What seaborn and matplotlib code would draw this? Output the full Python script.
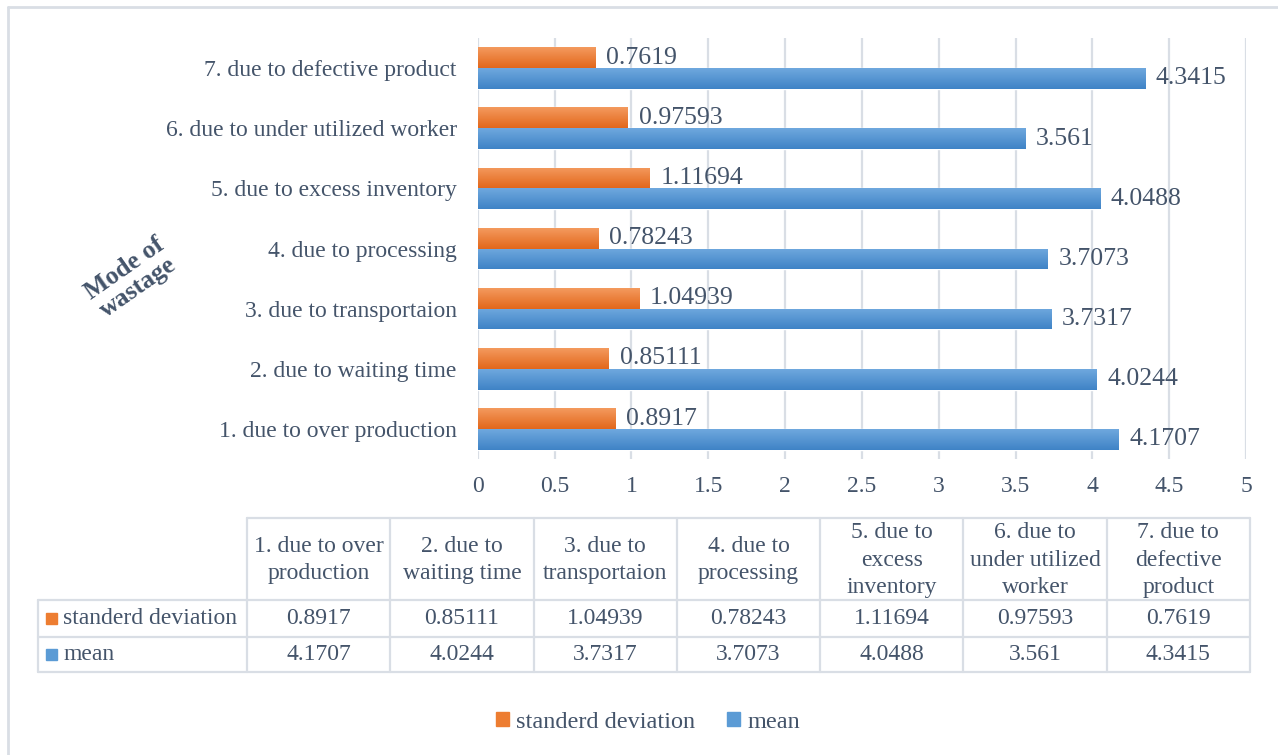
import numpy as np
import pandas as pd
import matplotlib
matplotlib.use("Agg")
import matplotlib.pyplot as plt
import seaborn as sns
from matplotlib.patches import Patch

# data
modes = ["1. due to over production", "2. due to waiting time", "3. due to transportaion",
         "4. due to processing", "5. due to excess inventory", "6. due to under utilized worker",
         "7. due to defective product"]
table_heads = ["1. due to over\nproduction", "2. due to\nwaiting time", "3. due to\ntransportaion",
               "4. due to\nprocessing", "5. due to\nexcess\ninventory", "6. due to\nunder utilized\nworker",
               "7. due to\ndefective\nproduct"]
std_dev = [0.8917, 0.85111, 1.04939, 0.78243, 1.11694, 0.97593, 0.7619]
mean = [4.1707, 4.0244, 3.7317, 3.7073, 4.0488, 3.561, 4.3415]
series = ["standerd deviation", "mean"]
x_ticks = [0, 0.5, 1, 1.5, 2, 2.5, 3, 3.5, 4, 4.5, 5]

df = pd.DataFrame({
    "mode": modes * 2,
    "series": [series[0]] * len(modes) + [series[1]] * len(modes),
    "value": std_dev + mean,
})

TXT = "#44546A"
GRID = "#D9DEE5"
colors = {"standerd deviation": "#ED7D31", "mean": "#5B9BD5"}
grad_cols = {"standerd deviation": ("#F49A5E", "#E2671B"), "mean": ("#6FA8DE", "#3F83C6")}

sns.set_style("white")
plt.rcParams["font.family"] = ["Liberation Serif", "DejaVu Serif"]

fig = plt.figure(figsize=(12.78, 7.55), dpi=100)
W, H = 1278, 755
ax = fig.add_axes([477.7 / W, 1 - 459 / H, (1246 - 477.7) / W, (459 - 38) / H])

sns.barplot(data=df, y="mode", x="value", hue="series", order=modes[::-1],
            hue_order=series, palette=colors, width=0.69, orient="h",
            legend=False, ax=ax, saturation=1)

# gradient fill like the original
for cont, name in zip(ax.containers, series):
    c0 = np.array(matplotlib.colors.to_rgb(grad_cols[name][0]))
    c1 = np.array(matplotlib.colors.to_rgb(grad_cols[name][1]))
    t = np.linspace(0, 1, 50)[:, None, None]
    img = c0 * (1 - t) + c1 * t
    for bar in cont:
        x, y, w, h = bar.get_x(), bar.get_y(), bar.get_width(), bar.get_height()
        im = ax.imshow(img, extent=(x, x + w, y + h, y), aspect="auto", origin="upper",
                       zorder=bar.get_zorder() + 0.1)
        im.set_clip_path(bar)
    ax.bar_label(cont, fmt="%g", padding=8, fontsize=18.5, color=TXT)

ax.set_xlim(0, 5)
ax.set_ylim(6.5, -0.5)
ax.set_xticks(x_ticks)
ax.set_xticklabels([f"{v:g}" for v in x_ticks])
ax.grid(axis="x", color=GRID, lw=1.6)
ax.set_axisbelow(True)
for s in ax.spines.values():
    s.set_visible(False)
ax.tick_params(axis="both", length=0, labelsize=17, colors=TXT)
ax.tick_params(axis="x", pad=12)
ax.tick_params(axis="y", pad=15)
ax.set_xlabel("")
ax.set_ylabel("")

fig.text(131 / W, 1 - 278 / H, "Mode of\nwastage", rotation=35, ha="center", va="center",
         rotation_mode="anchor", fontsize=18.5, fontweight="bold", color=TXT, linespacing=1.05)

# data table under the chart
tax = fig.add_axes([0, 0, 1, 1], zorder=-1)
tax.set_xlim(0, W)
tax.set_ylim(H, 0)
tax.axis("off")

col_x = np.linspace(247, 1250, len(modes) + 1)
row_y = [518, 600, 637, 672]
left_x = 38
lw = 1.6
tax.plot([col_x[0], col_x[-1]], [row_y[0]] * 2, color=GRID, lw=lw)
for yy in row_y[1:]:
    tax.plot([left_x, col_x[-1]], [yy, yy], color=GRID, lw=lw)
tax.plot([left_x, left_x], [row_y[1], row_y[3]], color=GRID, lw=lw)
for xx in col_x:
    tax.plot([xx, xx], [row_y[0], row_y[3]], color=GRID, lw=lw)

for i, head in enumerate(table_heads):
    cx = (col_x[i] + col_x[i + 1]) / 2
    tax.text(cx, (row_y[0] + row_y[1]) / 2 + 1, head, ha="center", va="center",
             fontsize=17, color=TXT, linespacing=1.4)
    tax.text(cx, (row_y[1] + row_y[2]) / 2, f"{std_dev[i]:g}", ha="center", va="center",
             fontsize=17, color=TXT)
    tax.text(cx, (row_y[2] + row_y[3]) / 2, f"{mean[i]:g}", ha="center", va="center",
             fontsize=17, color=TXT)

for r, name in enumerate(series):
    cy = (row_y[r + 1] + row_y[r + 2]) / 2
    tax.add_patch(plt.Rectangle((46, cy - 5.5), 11, 11, color=colors[name]))
    tax.text(63, cy, name, ha="left", va="center", fontsize=17, color=TXT)

# outer frame (left and top edges visible)
tax.plot([8, W], [7, 7], color=GRID, lw=2)
tax.plot([8, 8], [7, H], color=GRID, lw=2)

handles = [Patch(color=colors[s], label=s) for s in series]
fig.legend(handles=handles, loc="center", bbox_to_anchor=(648 / W, 1 - 722 / H), ncol=2,
           frameon=False, fontsize=17.5, handlelength=0.55, handleheight=0.55,
           handletextpad=0.3, columnspacing=1.3, labelcolor=TXT)

fig.savefig("out.png", dpi=100)
